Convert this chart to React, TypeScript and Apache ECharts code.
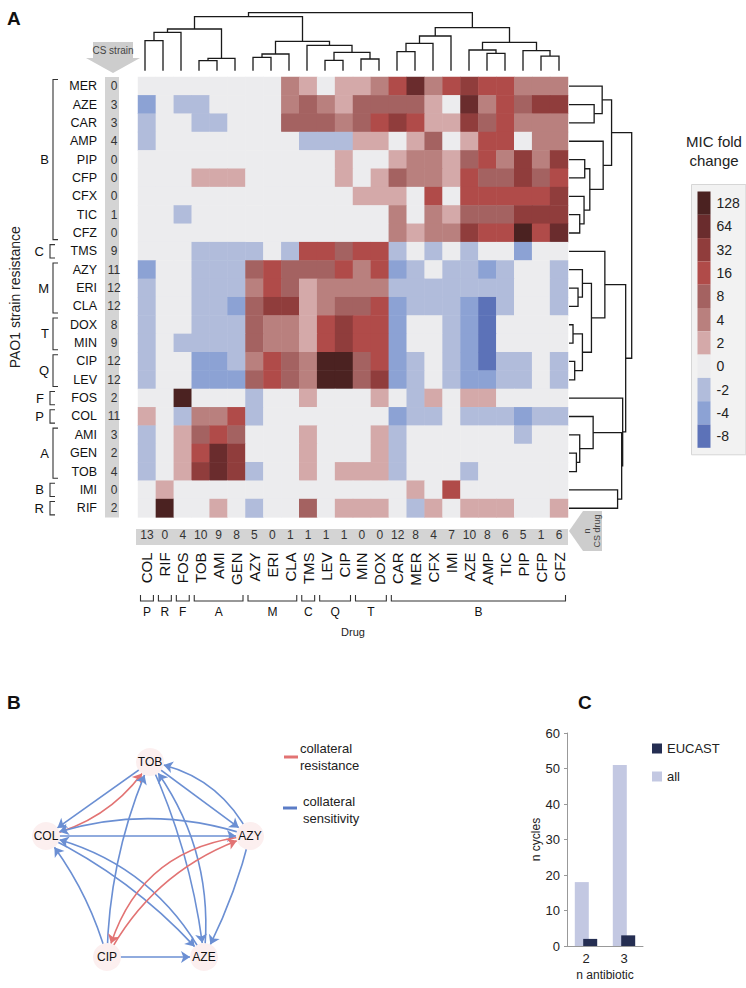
import React, { useEffect, useRef } from 'react';
import * as echarts from 'echarts';

const FONT = '"Liberation Sans", Arial, Helvetica, sans-serif';

// ---------- Panel A data ----------
const COLS = ['COL','RIF','FOS','TOB','AMI','GEN','AZY','ERI','CLA','TMS','LEV','CIP','MIN','DOX','CAR','MER','CFX','IMI','AZE','AMP','TIC','PIP','CFP','CFZ'];
const ROWS = ['MER','AZE','CAR','AMP','PIP','CFP','CFX','TIC','CFZ','TMS','AZY','ERI','CLA','DOX','MIN','CIP','LEV','FOS','COL','AMI','GEN','TOB','IMI','RIF'];
const ROW_COUNTS = [0,3,3,4,0,0,0,1,0,9,11,12,12,8,9,12,12,2,11,3,2,4,0,2];
const COL_COUNTS = [13,0,4,10,9,8,5,0,1,1,1,1,0,0,12,8,4,7,10,8,6,5,1,6];

// MIC fold change, one row per strain (ROWS), one column per drug (COLS)
const MIC_FOLD: number[][] = [
  [0,0,0,0,0,0,0,0,4,2,0,2,2,4,16,64,4,16,32,16,16,4,4,4],          // MER
  [-4,0,-2,-2,0,0,0,0,4,8,4,2,8,8,8,8,2,0,64,4,16,8,32,32],         // AZE
  [-2,0,0,-2,-2,0,0,0,8,8,8,4,8,16,32,16,2,2,32,8,16,4,4,4],        // CAR
  [-2,0,0,0,0,0,0,0,0,-2,-2,-2,2,2,0,2,8,0,2,16,16,0,4,4],          // AMP
  [0,0,0,0,0,0,0,0,0,0,0,2,0,0,2,4,4,2,8,16,4,32,4,32],             // PIP
  [0,0,0,2,2,2,0,0,0,0,0,2,0,2,8,4,4,2,16,8,8,32,8,16],             // CFP
  [0,0,0,0,0,0,0,0,0,0,0,0,2,2,2,0,16,0,16,16,16,16,16,32],         // CFX
  [0,0,-2,0,0,0,0,0,0,0,0,0,0,0,4,0,4,2,8,8,8,32,32,32],            // TIC
  [0,0,0,0,0,0,0,0,0,0,0,0,0,0,4,2,4,4,32,16,16,128,16,64],         // CFZ
  [0,0,0,-2,-2,-2,-2,0,-2,16,16,8,16,16,-2,0,-2,0,-2,0,0,-4,0,0],   // TMS
  [-4,0,0,-2,-2,-2,8,16,8,8,8,16,4,16,-4,-2,0,-2,-2,-4,-2,0,0,-2],  // AZY
  [-2,0,0,-2,-2,-2,4,16,8,2,4,4,4,4,-2,-2,-2,-2,-2,-2,-2,0,0,-2],   // ERI
  [-2,0,0,-2,-2,-4,8,32,32,2,4,8,8,16,-4,-2,-2,-2,-4,-8,-2,0,0,-2], // CLA
  [-2,0,0,-2,-2,-2,8,4,4,2,16,32,16,16,-4,0,0,-2,-4,-8,0,0,0,0],    // DOX
  [-2,0,-2,-2,-2,-2,8,4,4,2,16,32,16,16,-4,0,0,-2,-4,-8,0,0,0,0],   // MIN
  [-2,0,0,-4,-4,-2,4,16,8,4,128,128,8,16,-4,-2,0,-2,-4,-8,-2,-2,0,-2], // CIP
  [-2,0,0,-4,-4,-4,8,16,8,4,128,128,8,32,-4,-2,0,-2,-4,-4,-2,-2,0,-2], // LEV
  [0,0,128,0,0,0,-2,0,0,2,0,0,0,2,0,-2,2,0,2,2,0,0,0,0],            // FOS
  [2,0,-2,4,4,16,-2,0,0,0,0,0,0,0,-4,-2,-2,0,-2,-2,-2,-4,-2,-2],    // COL
  [-2,0,2,8,16,8,0,0,0,2,0,0,0,2,-2,0,0,0,0,0,0,-2,0,0],            // AMI
  [-2,0,2,16,64,32,0,0,0,2,0,0,0,2,-2,0,0,0,0,0,0,0,0,0],           // GEN
  [-2,0,2,32,64,32,-2,0,0,2,0,2,2,2,-2,0,0,0,-2,0,0,0,0,0],         // TOB
  [0,2,0,0,0,0,0,0,0,0,0,0,0,0,0,2,0,16,0,0,0,0,0,0],               // IMI
  [0,128,0,0,2,0,-2,0,0,8,0,2,2,2,0,-2,2,0,2,2,2,0,0,2],            // RIF
];

const LEVELS = [128,64,32,16,8,4,2,0,-2,-4,-8];
const LEVEL_COLORS = ['#4b2221','#6a2c2d','#903d3c','#b04b49','#a46261','#b9807e','#d4a9a9','#ececee','#b1bcdb','#8ca2d4','#5c72b8'];

// dendrogram merges: [childA, childB, height]; child >= 0 is a leaf index, N(k) is merge k
const N = (k: number) => -(k + 1);
const COL_MERGES: number[][] = [
  [0,1,0.517],[N(0),2,0.662],[3,4,0.172],[N(2),5,0.213],[N(1),N(3),0.719],
  [6,7,0.23],[N(5),8,0.288],[10,11,0.178],[12,13,0.202],[N(7),N(8),0.317],
  [9,N(9),0.437],[N(6),N(10),0.506],[N(4),N(11),0.931],
  [14,15,0.328],[N(13),16,0.472],[N(14),17,0.598],[19,20,0.3],[18,N(16),0.357],
  [22,23,0.253],[21,N(18),0.345],[N(17),N(19),0.49],[N(15),N(20),0.741],[N(12),N(21),1.0],
];
const ROW_MERGES: number[][] = [
  [1,2,0.401],[0,N(0),0.529],[4,5,0.251],[7,8,0.171],[6,N(3),0.24],[N(2),N(4),0.332],
  [3,N(5),0.545],[N(1),N(6),0.679],
  [11,12,0.144],[10,N(8),0.214],[13,14,0.064],[15,16,0.091],[N(10),N(11),0.214],
  [N(9),N(12),0.358],[9,N(13),0.572],
  [20,21,0.118],[19,N(15),0.171],[18,N(16),0.385],[22,23,0.775],[N(17),N(18),0.84],
  [17,N(19),0.856],[N(14),N(20),0.904],[N(7),N(21),1.0],
];

const ROW_GROUPS = ['B','C','M','T','Q','F','P','A','B','R'];
const ROW_GROUP_START = [0,9,10,13,15,17,18,19,22,23];
const ROW_GROUP_END = [8,9,12,14,16,17,18,21,22,23];
const COL_GROUPS = ['P','R','F','A','M','C','Q','T','B'];
const COL_GROUP_START = [0,1,2,3,6,9,10,12,14];
const COL_GROUP_END = [0,1,2,5,8,9,11,13,23];

// ---------- Panel B data ----------
const NODE_NAMES = ['TOB','COL','AZY','CIP','AZE'];
const NODE_X = [150, 46, 250, 107, 204];
const NODE_Y = [762, 836, 836, 957, 957];
const EDGE_SOURCE = ['TOB','COL','AZY','COL','TOB','AZY','CIP','TOB','AZE','CIP','COL','AZE','CIP','AZY','CIP','AZY'];
const EDGE_TARGET = ['COL','TOB','COL','AZY','AZY','TOB','TOB','AZE','TOB','COL','AZE','COL','AZY','CIP','AZE','AZE'];
const EDGE_KIND = ['S','R','S','S','S','S','S','S','S','S','S','S','R','R','S','S'];
const EDGE_CURVE = [0,-0.2,-0.17,0,0,-0.25,0.1,0.08,-0.2,-0.1,0.1,-0.22,0.2,-0.35,0,0.06];

// ---------- Panel C data ----------
const N_ANTIBIOTIC = ['2','3'];
const CYCLES_ALL = [18, 51];
const CYCLES_EUCAST = [2, 3];

function dendroSegments(merges: number[][]) {
  const pos: number[] = [];
  const hts: number[] = [];
  const segs: number[][] = [];
  const get = (c: number) => (c >= 0 ? [c, 0] : [pos[-c - 1], hts[-c - 1]]);
  merges.forEach(([a, b, h], k) => {
    const [xa, ha] = get(a);
    const [xb, hb] = get(b);
    segs.push([xa, ha, xb, hb, h]);
    pos[k] = (xa + xb) / 2;
    hts[k] = h;
  });
  return segs;
}

const HM_LEFT = 136, HM_TOP = 77, HM_W = 432, HM_H = 440.4;
const RED = '#e27373', BLUE = '#6b8fd3';

function buildOption(): any {
  const heatData: number[][] = [];
  MIC_FOLD.forEach((row, r) => row.forEach((v, c) => heatData.push([c, r, v])));
  const topSegs = dendroSegments(COL_MERGES);
  const rightSegs = dendroSegments(ROW_MERGES);
  const lineStyle = { stroke: '#1a1a1a', lineWidth: 1.3, fill: 'none' };

  return {
    animation: false,
    backgroundColor: '#ffffff',
    textStyle: { fontFamily: FONT },
    grid: [
      { left: HM_LEFT, top: HM_TOP, width: HM_W, height: HM_H },
      { left: HM_LEFT, top: 12.7, width: HM_W, height: 58 },
      { left: 569, top: HM_TOP, width: 62.7, height: HM_H },
      { left: 567, top: 733, width: 76, height: 213 },
    ],
    xAxis: [
      { type: 'category', gridIndex: 0, data: COLS, position: 'bottom',
        axisLine: { show: false }, axisTick: { show: false }, splitLine: { show: false },
        axisLabel: { rotate: 90, margin: 35, fontSize: 15, color: '#111', interval: 0 },
        name: 'Drug', nameLocation: 'middle', nameGap: 109, nameTextStyle: { fontSize: 11, color: '#222' } },
      { type: 'category', gridIndex: 0, data: COL_COUNTS.map(String), position: 'bottom',
        axisLine: { show: false }, axisTick: { show: false },
        axisLabel: { margin: 12, fontSize: 12, color: '#333', interval: 0 } },
      { type: 'value', gridIndex: 1, min: -0.5, max: 23.5, show: false },
      { type: 'value', gridIndex: 2, min: 0, max: 1, show: false },
      { type: 'category', gridIndex: 3, data: N_ANTIBIOTIC,
        axisLine: { lineStyle: { color: '#999' } }, axisTick: { show: false },
        axisLabel: { fontSize: 13, color: '#222', margin: 6 },
        name: 'n antibiotic', nameLocation: 'middle', nameGap: 23, nameTextStyle: { fontSize: 12, color: '#222' } },
    ],
    yAxis: [
      { type: 'category', gridIndex: 0, data: ROWS, inverse: true, position: 'left',
        axisLine: { show: false }, axisTick: { show: false }, splitLine: { show: false },
        axisLabel: { margin: 41, fontSize: 12.5, color: '#111', interval: 0 },
        name: 'PAO1 strain resistance', nameLocation: 'middle', nameGap: 116,
        nameTextStyle: { fontSize: 14, color: '#222' } },
      { type: 'category', gridIndex: 0, data: ROW_COUNTS.map(String), inverse: true, position: 'left',
        axisLine: { show: false }, axisTick: { show: false },
        axisLabel: { margin: 24, align: 'center', fontSize: 12, color: '#333', interval: 0 } },
      { type: 'value', gridIndex: 1, min: 0, max: 1, show: false },
      { type: 'value', gridIndex: 2, min: -0.5, max: 23.5, inverse: true, show: false },
      { type: 'value', gridIndex: 3, min: 0, max: 60, interval: 10,
        axisLine: { show: true, lineStyle: { color: '#999' } },
        axisTick: { show: true, length: 3, lineStyle: { color: '#999' } },
        splitLine: { show: false },
        axisLabel: { fontSize: 13, color: '#222', margin: 7 },
        name: 'n cycles', nameLocation: 'middle', nameGap: 24, nameTextStyle: { fontSize: 12, color: '#222' } },
    ],
    visualMap: {
      type: 'piecewise', seriesIndex: 0, orient: 'vertical', left: 691, top: 184,
      itemWidth: 13, itemHeight: 23.3, itemGap: 0, itemSymbol: 'rect', textGap: 6,
      padding: [7, 6, 7, 6], backgroundColor: '#f2f2f2', borderColor: '#d6d6d6', borderWidth: 1,
      selectedMode: false, hoverLink: false, align: 'left',
      textStyle: { fontSize: 14, color: '#222' },
      pieces: LEVELS.map((v, i) => ({ value: v, label: String(v), color: LEVEL_COLORS[i] })),
    },
    legend: {
      data: ['EUCAST', 'all'], orient: 'vertical', left: 647, top: 737,
      itemWidth: 10, itemHeight: 10, itemGap: 15, icon: 'rect', selectedMode: false,
      textStyle: { fontSize: 13, color: '#222' },
    },
    graphic: [
      { type: 'text', left: 7, top: 9, style: { text: 'A', fontSize: 19, fontWeight: 'bold', fill: '#111', fontFamily: FONT } },
      { type: 'text', left: 7, top: 693, style: { text: 'B', fontSize: 19, fontWeight: 'bold', fill: '#111', fontFamily: FONT } },
      { type: 'text', left: 578, top: 693, style: { text: 'C', fontSize: 19, fontWeight: 'bold', fill: '#111', fontFamily: FONT } },
      { type: 'rect', z: -10, shape: { x: 105, y: HM_TOP, width: 14, height: HM_H }, style: { fill: '#d4d4d4' } },
      { type: 'rect', z: -10, shape: { x: HM_LEFT, y: 529, width: HM_W, height: 16 }, style: { fill: '#d4d4d4' } },
      { type: 'polygon', shape: { points: [[93, 42], [133, 42], [133, 58], [140, 58], [113, 73], [86, 58], [93, 58]] }, style: { fill: '#cdcdcd' } },
      { type: 'text', x: 113, y: 50, style: { text: 'CS strain', fontSize: 10, fill: '#444', align: 'center', verticalAlign: 'middle', fontFamily: FONT } },
      { type: 'polygon', shape: { points: [[569, 531], [583, 511], [602, 511], [602, 551], [583, 551]] }, style: { fill: '#cdcdcd' } },
      { type: 'text', x: 592, y: 531, rotation: Math.PI / 2, style: { text: 'n\nCS drug', fontSize: 9, lineHeight: 10, fill: '#444', align: 'center', verticalAlign: 'middle', fontFamily: FONT } },
      { type: 'text', x: 714, y: 151, style: { text: 'MIC fold\nchange', fontSize: 15, lineHeight: 19, fill: '#222', align: 'center', verticalAlign: 'middle', fontFamily: FONT } },
      { type: 'line', shape: { x1: 284, y1: 757, x2: 298, y2: 757 }, style: { stroke: RED, lineWidth: 3 } },
      { type: 'text', x: 300, y: 757, style: { text: 'collateral\nresistance', fontSize: 13, lineHeight: 17, fill: '#222', verticalAlign: 'middle', fontFamily: FONT } },
      { type: 'line', shape: { x1: 283, y1: 808, x2: 297, y2: 808 }, style: { stroke: '#5b7cc6', lineWidth: 3 } },
      { type: 'text', x: 303, y: 810, style: { text: 'collateral\nsensitivity', fontSize: 13, lineHeight: 17, fill: '#222', verticalAlign: 'middle', fontFamily: FONT } },
    ],
    series: [
      { type: 'heatmap', xAxisIndex: 0, yAxisIndex: 0, data: heatData, silent: true,
        itemStyle: { borderWidth: 0 }, emphasis: { disabled: true } },
      { type: 'custom', xAxisIndex: 2, yAxisIndex: 2, data: topSegs, silent: true, clip: false,
        renderItem: (_p: any, api: any) => {
          const x1 = api.value(0), h1 = api.value(1), x2 = api.value(2), h2 = api.value(3), h = api.value(4);
          return { type: 'polyline', shape: { points: [api.coord([x1, h1]), api.coord([x1, h]), api.coord([x2, h]), api.coord([x2, h2])] }, style: lineStyle };
        } },
      { type: 'custom', xAxisIndex: 3, yAxisIndex: 3, data: rightSegs, silent: true, clip: false,
        renderItem: (_p: any, api: any) => {
          const y1 = api.value(0), d1 = api.value(1), y2 = api.value(2), d2 = api.value(3), d = api.value(4);
          return { type: 'polyline', shape: { points: [api.coord([d1, y1]), api.coord([d, y1]), api.coord([d, y2]), api.coord([d2, y2])] }, style: lineStyle };
        } },
      { type: 'custom', xAxisIndex: 0, yAxisIndex: 0, silent: true, clip: false,
        data: ROW_GROUP_START.map((s, i) => [0, s, ROW_GROUP_END[i]]),
        renderItem: (p: any, api: any) => {
          const s = api.value(1), e = api.value(2);
          const h = api.size([1, 1])[1];
          const y1 = api.coord([0, s])[1] - h / 2 + 2.5;
          const y2 = api.coord([0, e])[1] + h / 2 - 2.5;
          const single = s === e;
          const bx = single ? 50 : 53;
          const tx = bx + 5;
          return { type: 'group', children: [
            { type: 'polyline', shape: { points: [[tx, y1], [bx, y1], [bx, y2], [tx, y2]] }, style: { stroke: '#333', lineWidth: 1.1, fill: 'none' } },
            { type: 'text', x: single ? 44 : 49, y: (y1 + y2) / 2, style: { text: ROW_GROUPS[p.dataIndex], fill: '#111', fontSize: 13, fontFamily: FONT, align: 'right', verticalAlign: 'middle' } },
          ] };
        } },
      { type: 'custom', xAxisIndex: 0, yAxisIndex: 0, silent: true, clip: false,
        data: COL_GROUP_START.map((s, i) => [s, 0, COL_GROUP_END[i]]),
        renderItem: (p: any, api: any) => {
          const s = api.value(0), e = api.value(2);
          const w = api.size([1, 1])[0];
          const x1 = api.coord([s, 0])[0] - w / 2 + 2.5;
          const x2 = api.coord([e, 0])[0] + w / 2 - 2.5;
          const yb = 601, yt = 595;
          return { type: 'group', children: [
            { type: 'polyline', shape: { points: [[x1, yt], [x1, yb], [x2, yb], [x2, yt]] }, style: { stroke: '#333', lineWidth: 1.1, fill: 'none' } },
            { type: 'text', x: (x1 + x2) / 2, y: 612, style: { text: COL_GROUPS[p.dataIndex], fill: '#111', fontSize: 12, fontFamily: FONT, align: 'center', verticalAlign: 'middle' } },
          ] };
        } },
      { type: 'graph', layout: 'none', left: 46, top: 762, width: 204, height: 195,
        symbol: 'circle', symbolSize: 28, roam: false, silent: true,
        itemStyle: { color: '#fcefef' },
        label: { show: true, position: 'inside', color: '#111', fontSize: 12, fontFamily: FONT },
        edgeSymbol: ['none', 'arrow'], edgeSymbolSize: [0, 9],
        data: NODE_NAMES.map((n, i) => ({ name: n, x: NODE_X[i], y: NODE_Y[i] })),
        links: EDGE_SOURCE.map((s, i) => ({
          source: s, target: EDGE_TARGET[i],
          lineStyle: { color: EDGE_KIND[i] === 'R' ? RED : BLUE, curveness: EDGE_CURVE[i], width: 1.6, opacity: 1 },
        })),
      },
      { type: 'bar', name: 'all', xAxisIndex: 4, yAxisIndex: 4, data: CYCLES_ALL, barWidth: 14, barGap: '-40%',
        itemStyle: { color: '#c3c8e2' }, silent: true },
      { type: 'bar', name: 'EUCAST', xAxisIndex: 4, yAxisIndex: 4, data: CYCLES_EUCAST, barWidth: 14, barGap: '-40%',
        itemStyle: { color: '#252e52' }, silent: true },
    ],
  };
}

export default function App() {
  const ref = useRef<HTMLDivElement>(null);
  useEffect(() => {
    if (!ref.current) return;
    const chart = echarts.init(ref.current, null, { renderer: 'svg' });
    chart.setOption(buildOption());
    return () => chart.dispose();
  }, []);
  return <div ref={ref} style={{ position: 'absolute', left: 0, top: 0, width: 746, height: 988, background: '#fff' }} />;
}
